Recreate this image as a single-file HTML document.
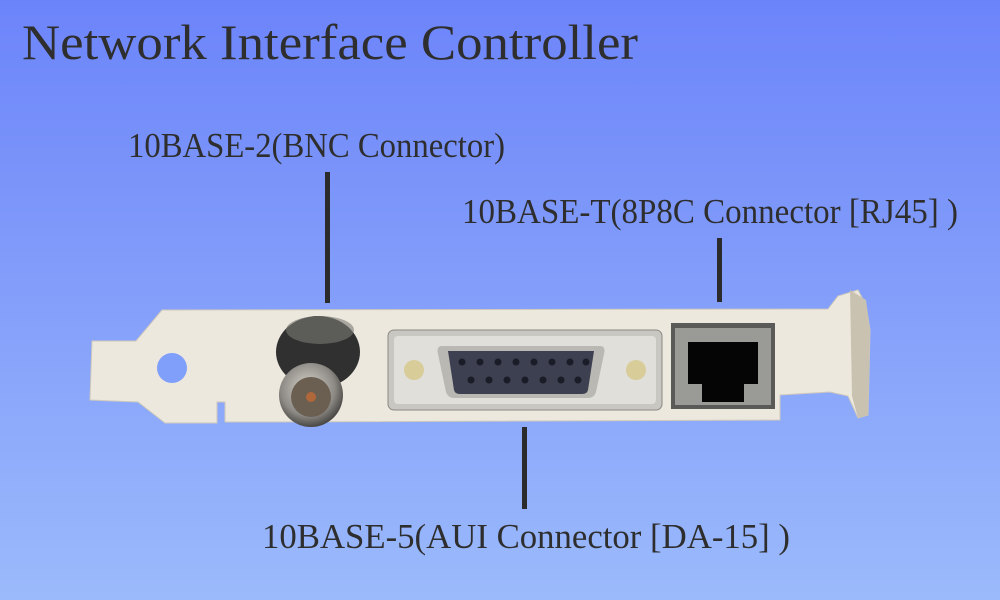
<!DOCTYPE html>
<html><head><meta charset="utf-8"><style>html,body{margin:0;padding:0;width:1000px;height:600px;overflow:hidden}</style></head>
<body>
<svg width="1000" height="600" viewBox="0 0 1000 600" xmlns="http://www.w3.org/2000/svg">
<defs>
<linearGradient id="bg" x1="0" y1="0" x2="0" y2="1"><stop offset="0" stop-color="#6c84fa"/><stop offset="1" stop-color="#9bbafb"/></linearGradient>
<radialGradient id="bnc" cx="0.45" cy="0.4" r="0.6"><stop offset="0" stop-color="#d9d6cf"/><stop offset="0.7" stop-color="#8d8a85"/><stop offset="1" stop-color="#4a4845"/></radialGradient>
</defs>
<rect width="1000" height="600" fill="url(#bg)"/>
<g font-family="'Liberation Serif', serif" fill="#2e2e2e">
<text x="22" y="59" font-size="50" textLength="616" lengthAdjust="spacingAndGlyphs">Network Interface Controller</text>
<text x="128" y="157" font-size="35" textLength="377" lengthAdjust="spacingAndGlyphs">10BASE-2(BNC Connector)</text>
<text x="462" y="223" font-size="35" textLength="496" lengthAdjust="spacingAndGlyphs">10BASE-T(8P8C Connector [RJ45] )</text>
<text x="262" y="548" font-size="35" textLength="528" lengthAdjust="spacingAndGlyphs">10BASE-5(AUI Connector [DA-15] )</text>
</g>
<g fill="#2b2b2b">
<rect x="325" y="172" width="5" height="131"/>
<rect x="717" y="238" width="5" height="64"/>
<rect x="522" y="427" width="5" height="82"/>
</g>
<!-- bracket -->
<path d="M92,341 L136,341 L162,310 L828,309 L838,296 L858,290 L866,305 L870,330 L868,415 L858,418 L848,396 L830,392 L780,395 L780,420 L275,422 L225,422 L225,402 L217,402 L217,423 L165,423 L138,402 L90,400 Z" fill="#ece8de" stroke="#cfc9bb" stroke-width="1"/>
<path d="M850,290 L866,300 L870,330 L868,415 L858,418 L852,396 Z" fill="#c9c2b0"/>
<circle cx="172" cy="368" r="15" fill="#7f9ffb"/>
<!-- BNC -->
<ellipse cx="318" cy="352" rx="42" ry="36" fill="#2f302f"/>
<ellipse cx="320" cy="330" rx="34" ry="14" fill="#7c7a74" opacity="0.6"/>
<circle cx="311" cy="395" r="32" fill="url(#bnc)"/>
<circle cx="311" cy="397" r="20" fill="#6b5f52"/>
<circle cx="311" cy="397" r="5" fill="#b0673a"/>
<!-- AUI -->
<rect x="388" y="330" width="274" height="80" rx="6" fill="#c8c7c2" stroke="#8a8984"/>
<rect x="394" y="336" width="262" height="68" rx="4" fill="#e0dfda"/>
<path d="M442,346 L600,346 Q606,346 604,354 L596,392 Q594,398 588,398 L454,398 Q448,398 446,392 L438,354 Q436,346 442,346 Z" fill="#b9b8b3"/>
<path d="M448,351 L594,351 L588,390 Q587,394 582,394 L460,394 Q455,394 454,390 Z" fill="#3d4050"/>
<g fill="#1a1c28">
<circle cx="462" cy="362" r="3.5"/><circle cx="480" cy="362" r="3.5"/><circle cx="498" cy="362" r="3.5"/><circle cx="516" cy="362" r="3.5"/><circle cx="534" cy="362" r="3.5"/><circle cx="552" cy="362" r="3.5"/><circle cx="570" cy="362" r="3.5"/><circle cx="586" cy="362" r="3.5"/>
<circle cx="471" cy="380" r="3.5"/><circle cx="489" cy="380" r="3.5"/><circle cx="507" cy="380" r="3.5"/><circle cx="525" cy="380" r="3.5"/><circle cx="543" cy="380" r="3.5"/><circle cx="561" cy="380" r="3.5"/><circle cx="578" cy="380" r="3.5"/>
</g>
<circle cx="414" cy="370" r="10" fill="#d8cc98"/>
<circle cx="636" cy="370" r="10" fill="#d8cc98"/>
<!-- RJ45 -->
<rect x="671" y="323" width="104" height="86" fill="#5a5a58"/>
<rect x="675" y="328" width="96" height="77" fill="#9a9a96"/>
<rect x="678" y="342" width="90" height="60" fill="#050505"/>
<rect x="678" y="342" width="10" height="42" fill="#9a9a96"/>
<rect x="758" y="342" width="10" height="42" fill="#9a9a96"/>
<rect x="678" y="384" width="24" height="18" fill="#9a9a96"/>
<rect x="744" y="384" width="24" height="18" fill="#9a9a96"/>
</svg>
</body></html>
